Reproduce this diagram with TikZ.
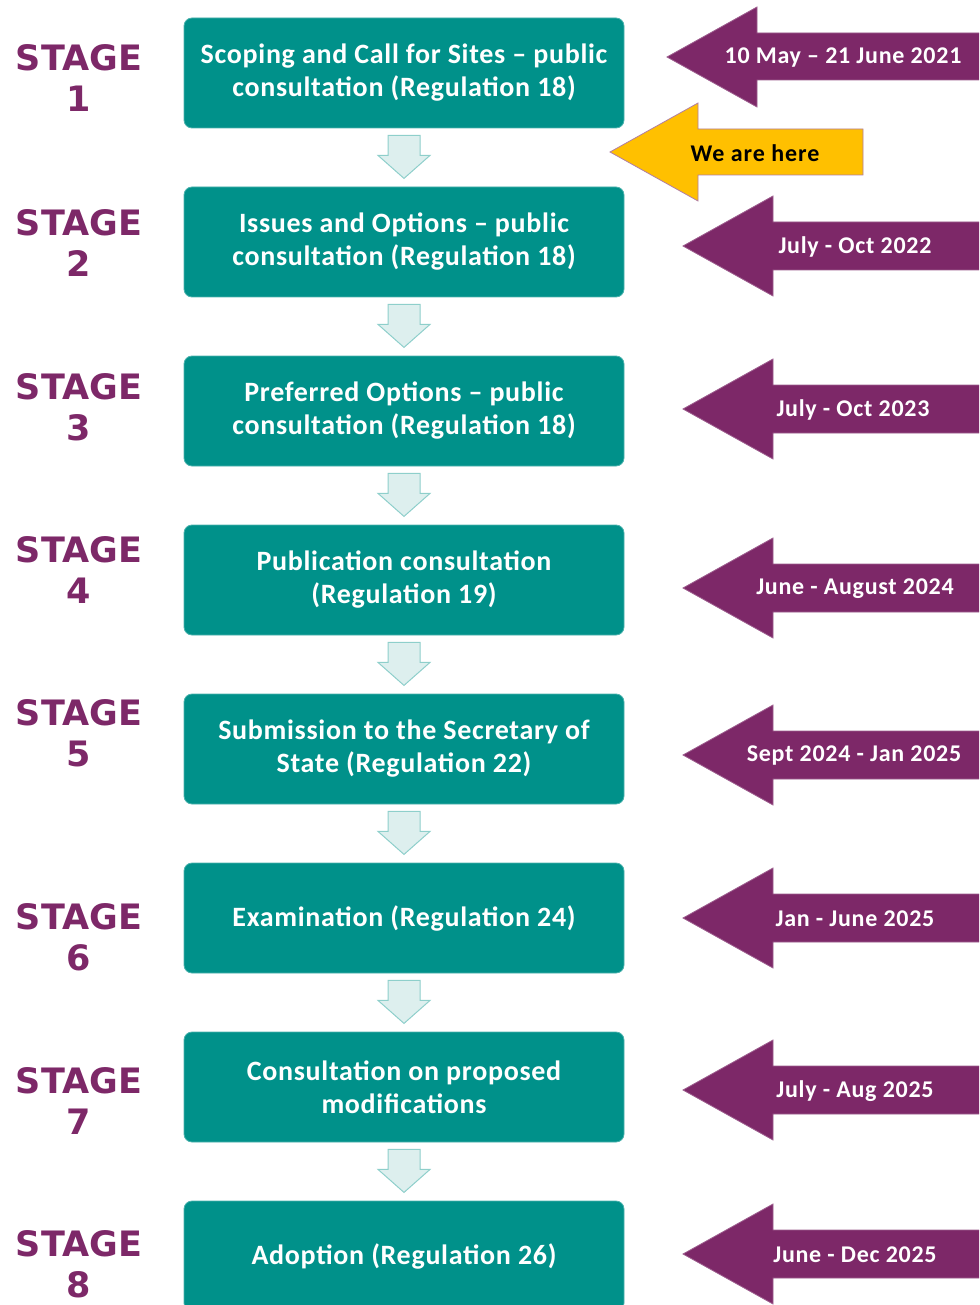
\documentclass[tikz,border=0pt]{standalone}
\usepackage{fontspec}
\setmainfont{Carlito}
\newfontfamily\stagefont{DejaVu Sans}
\usetikzlibrary{calc}
\definecolor{tealbox}{HTML}{00918A}
\definecolor{plum}{HTML}{7D2868}
\definecolor{gold}{HTML}{FFC000}
\definecolor{pale}{HTML}{DDEFEE}
\definecolor{paleedge}{HTML}{8ECFCB}
\begin{document}
\begin{tikzpicture}[x=1pt,y=-1pt,
  box/.style={fill=tealbox, draw=tealbox!70!white, line width=0.8pt, rounded corners=8pt,
    minimum width=440pt, minimum height=110pt, text=white, inner sep=0pt,
    font=\fontsize{28}{33}\selectfont\bfseries\addfontfeature{LetterSpace=2.5}, align=center},
  stagelbl/.style={text=plum, font=\stagefont\fontsize{35}{41}\selectfont\bfseries, align=center, inner sep=0pt},
  datelbl/.style={text=white, inner sep=0pt, font=\fontsize{24}{28}\selectfont\bfseries\addfontfeature{LetterSpace=3}},
  herelbl/.style={text=black, inner sep=0pt, font=\fontsize{24}{28}\selectfont\bfseries\addfontfeature{LetterSpace=4}},
  purplearrow/.style={fill=plum, draw=plum!75!white, line width=0.8pt},
  goldarrow/.style={fill=gold, draw=plum!60!white, line width=0.8pt},
  downarrow/.style={fill=pale, draw=paleedge, line width=1pt, line join=miter}
]
\useasboundingbox (0,0) rectangle (979,1305);
\clip (0,0) rectangle (979,1305);

% stage boxes
\node[box] (b1) at (404,73) {Scoping and Call for Sites -- public\\consultation (Regulation 18)};
\node[box] (b2) at (404,242) {Issues and Options -- public\\consultation (Regulation 18)};
\node[box] (b3) at (404,411) {Preferred Options -- public\\consultation (Regulation 18)};
\node[box] (b4) at (404,580) {Publication consultation\\(Regulation 19)};
\node[box] (b5) at (404,749) {Submission to the Secretary of\\State (Regulation 22)};
\node[box] (b6) at (404,918) {Examination (Regulation 24)};
\node[box] (b7) at (404,1087) {Consultation on proposed\\modifications};
\node[box] (b8) at (404,1256) {Adoption (Regulation 26)};

% stage labels
\node[stagelbl] (s1) at (79,78) {STAGE\\1};
\node[stagelbl] (s2) at (79,243) {STAGE\\2};
\node[stagelbl] (s3) at (79,407) {STAGE\\3};
\node[stagelbl] (s4) at (79,570) {STAGE\\4};
\node[stagelbl] (s5) at (79,733) {STAGE\\5};
\node[stagelbl] (s6) at (79,937) {STAGE\\6};
\node[stagelbl] (s7) at (79,1101) {STAGE\\7};
\node[stagelbl] (s8) at (79,1264) {STAGE\\8};

% small down arrows between boxes
\foreach \i in {1,...,7}{
  \begin{scope}[shift={(b\i.south)}]
    \draw[downarrow] (-16,7) -- (16,7) -- (16,27) -- (26,27) -- (0,50) -- (-26,27) -- (-16,27) -- cycle;
  \end{scope}
}

% purple date arrows
\draw[purplearrow] (667,57) -- (757,7) -- (757,33) -- (990,33) -- (990,80) -- (757,80) -- (757,107) -- cycle;
\node[datelbl] (d1) at (843,58) {10 May -- 21 June 2021};
\foreach \c/\t/\n/\xx in {246/{July - Oct 2022}/d2/855, 409/{July - Oct 2023}/d3/853, 588/{June - August 2024}/d4/855,
  755/{Sept 2024 - Jan 2025}/d5/854, 918/{Jan - June 2025}/d6/855, 1090/{July - Aug 2025}/d7/855, 1254/{June - Dec 2025}/d8/855}{
  \draw[purplearrow] (683,\c) -- (773,\c-50) -- (773,\c-24) -- (990,\c-24) -- (990,\c+24) -- (773,\c+24) -- (773,\c+50) -- cycle;
  \node[datelbl] (\n) at (\xx,\c+1) {\t};
}

% we are here arrow
\draw[goldarrow] (610,152) -- (698,103) -- (698,129) -- (863,129) -- (863,175) -- (698,175) -- (698,201) -- cycle;
\node[herelbl] (here) at (755,153) {We are here};
\end{tikzpicture}
\end{document}
